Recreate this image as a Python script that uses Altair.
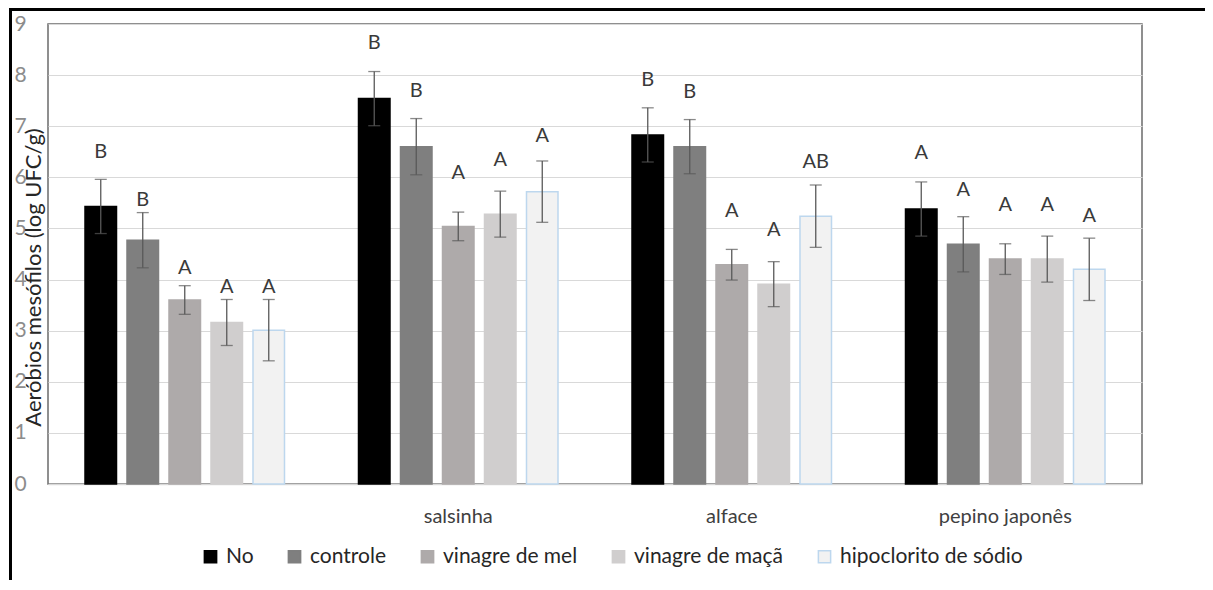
import altair as alt
import pandas as pd

groups = [" ", "salsinha", "alface", "pepino japonês"]
treatments = ["No", "controle", "vinagre de mel", "vinagre de maçã", "hipoclorito de sódio"]

# mean values per treatment, one per group
means_no = [5.43, 7.54, 6.83, 5.38]
means_controle = [4.77, 6.60, 6.60, 4.69]
means_mel = [3.60, 5.04, 4.29, 4.40]
means_maca = [3.16, 5.28, 3.91, 4.40]
means_hipo = [3.01, 5.72, 5.24, 4.20]

# error bar half-widths
err_no = [0.53, 0.53, 0.53, 0.53]
err_controle = [0.54, 0.55, 0.53, 0.54]
err_mel = [0.28, 0.28, 0.30, 0.30]
err_maca = [0.45, 0.45, 0.44, 0.45]
err_hipo = [0.60, 0.60, 0.61, 0.61]

# significance letters
let_no = ["B", "B", "B", "A"]
let_controle = ["B", "B", "B", "A"]
let_mel = ["A", "A", "A", "A"]
let_maca = ["A", "A", "A", "A"]
let_hipo = ["A", "A", "AB", "A"]

# heights (data units) at which the letters sit
lab_no = [6.50, 8.62, 7.91, 6.47]
lab_controle = [5.56, 7.68, 7.66, 5.75]
lab_mel = [4.23, 6.09, 5.35, 5.46]
lab_maca = [3.86, 6.34, 4.97, 5.46]
lab_hipo = [3.86, 6.81, 6.30, 5.24]

means = [means_no, means_controle, means_mel, means_maca, means_hipo]
errs = [err_no, err_controle, err_mel, err_maca, err_hipo]
lets = [let_no, let_controle, let_mel, let_maca, let_hipo]
labs = [lab_no, lab_controle, lab_mel, lab_maca, lab_hipo]

rows = []
for ti, t in enumerate(treatments):
    for gi, g in enumerate(groups):
        v = means[ti][gi]
        e = errs[ti][gi]
        rows.append({
            "grupo": g, "tratamento": t, "valor": v,
            "lo": v - e, "hi": v + e,
            "letra": lets[ti][gi], "ylab": labs[ti][gi],
        })
df = pd.DataFrame(rows)

fills = ["#000000", "#7f7f7f", "#aeaaaa", "#d0cece", "#f2f2f2"]
strokes = ["#000000", "#7f7f7f", "#aeaaaa", "#d0cece", "#bdd7ee"]
FONT = "Lato"

x = alt.X("grupo:N", sort=groups,
          scale=alt.Scale(paddingInner=0, paddingOuter=0),
          axis=alt.Axis(title=None, labelAngle=0, ticks=False, domain=True,
                        domainColor="#d9d9d9", domainWidth=1.5,
                        labelPadding=22, labelFontSize=20, labelColor="#404040",
                        labelFont=FONT))
xoff = alt.XOffset("tratamento:N", sort=treatments,
                   scale=alt.Scale(paddingInner=0.25, paddingOuter=0.881))
yscale = alt.Scale(domain=[0, 9], nice=False, zero=True)

base = alt.Chart(df)

bars = base.mark_bar(strokeWidth=1.5).encode(
    x=x, xOffset=xoff,
    y=alt.Y("valor:Q", scale=yscale,
            axis=alt.Axis(title="Aeróbios mesófilos (log UFC/g)", values=list(range(10)),
                          grid=True, gridColor="#d9d9d9", gridWidth=1.2,
                          domain=False, ticks=False, labelAlign="left",
                          labelPadding=34, labelFontSize=21, labelColor="#8c8c8c",
                          labelFont=FONT, labelBaseline="middle",
                          titleFont=FONT, titleFontSize=22, titleFontWeight="normal",
                          titleColor="#262626", titleX=-15, titleY=253,
                          titleAngle=-90, titleAlign="center", titleBaseline="middle")),
    color=alt.Color("tratamento:N", sort=treatments,
                    scale=alt.Scale(domain=treatments, range=fills),
                    legend=alt.Legend(title=None, orient="none", direction="horizontal",
                                      legendX=152, legendY=522, symbolType="square",
                                      symbolSize=150, symbolStrokeWidth=1.5,
                                      labelFontSize=21, labelFont=FONT,
                                      labelColor="#262626", labelOffset=5,
                                      labelLimit=0, columnPadding=30)),
    stroke=alt.Stroke("tratamento:N", sort=treatments,
                      scale=alt.Scale(domain=treatments, range=strokes),
                      legend=None),
)

errcolor = "#595959"
rules = base.mark_rule(color=errcolor, strokeWidth=1.3).encode(
    x=x, xOffset=xoff, y="lo:Q", y2="hi:Q")
cap_hi = base.mark_tick(color=errcolor, thickness=1.3, size=12).encode(
    x=x, xOffset=xoff, y=alt.Y("hi:Q", scale=yscale))
cap_lo = base.mark_tick(color=errcolor, thickness=1.3, size=12).encode(
    x=x, xOffset=xoff, y=alt.Y("lo:Q", scale=yscale))
letters = base.mark_text(font=FONT, fontSize=20, color="#3a3a3a",
                         baseline="middle").encode(
    x=x, xOffset=xoff, y=alt.Y("ylab:Q", scale=yscale), text="letra:N")

# outer frame of the figure (decoration)
frame_left = alt.Chart(df).mark_rule(color="#000000", strokeWidth=2.5).encode(
    x=alt.value(-37.5), y=alt.value(-14.5), y2=alt.value(600))
frame_top = alt.Chart(df).mark_rule(color="#000000", strokeWidth=2.5).encode(
    x=alt.value(-38.5), x2=alt.value(1200), y=alt.value(-14.5))

chart = alt.layer(bars, rules, cap_hi, cap_lo, letters, frame_left, frame_top).properties(
    width=1094, height=460,
    autosize=alt.AutoSizeParams(type="none"),
    padding={"left": 40, "top": 16, "right": 63, "bottom": 96},
).configure_view(stroke="#6b6b6b", strokeWidth=1.5)

chart.save("out.html", embed_options={"renderer": "svg", "actions": False})
